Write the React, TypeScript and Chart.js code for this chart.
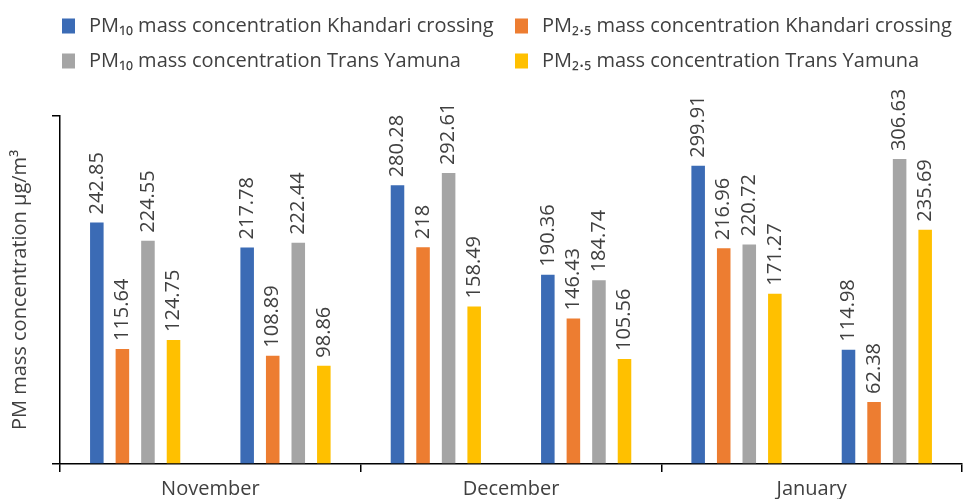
import React, { useEffect, useRef } from "react";
import { Chart, registerables } from "chart.js";

Chart.register(...registerables);

const months = ["November", "December", "January"];
const groups = ["Nov-1", "Nov-2", "Dec-1", "Dec-2", "Jan-1", "Jan-2"];

const seriesNames = [
  "PM₁₀ mass concentration Khandari crossing",
  "PM₂.₅ mass concentration Khandari crossing",
  "PM₁₀ mass concentration Trans Yamuna",
  "PM₂.₅ mass concentration Trans Yamuna",
];
const pm10Khandari = [242.85, 217.78, 280.28, 190.36, 299.91, 114.98];
const pm25Khandari = [115.64, 108.89, 218, 146.43, 216.96, 62.38];
const pm10Yamuna = [224.55, 222.44, 292.61, 184.74, 220.72, 306.63];
const pm25Yamuna = [124.75, 98.86, 158.49, 105.56, 171.27, 235.69];
const colors = ["#3B6BB5", "#ED7D31", "#A5A5A5", "#FFC000"];

const yMin = 0;
const yMax = 350;

const FONT = "'Open Sans', 'Noto Sans', sans-serif";
const TEXT = "#404040";

const legendPlugin = {
  id: "gridLegend",
  afterDraw(chart: any) {
    const ctx = chart.ctx;
    const items = chart.data.datasets;
    const colX = [62, 515];
    const rowY = [26, 61];
    ctx.save();
    ctx.font = `20px ${FONT}`;
    ctx.textBaseline = "middle";
    ctx.textAlign = "left";
    items.forEach((ds: any, i: number) => {
      const cx = colX[i % 2];
      const cy = rowY[Math.floor(i / 2)];
      ctx.fillStyle = ds.backgroundColor;
      ctx.fillRect(cx, cy - 7.5, 13, 15);
      ctx.fillStyle = TEXT;
      ctx.fillText(ds.label, cx + 27, cy);
    });
    ctx.restore();
  },
};

const valueLabelPlugin = {
  id: "valueLabels",
  afterDatasetsDraw(chart: any) {
    const ctx = chart.ctx;
    ctx.save();
    ctx.font = `20px ${FONT}`;
    ctx.fillStyle = TEXT;
    ctx.textAlign = "left";
    ctx.textBaseline = "middle";
    chart.data.datasets.forEach((ds: any, di: number) => {
      const meta = chart.getDatasetMeta(di);
      meta.data.forEach((bar: any, i: number) => {
        const v = ds.data[i];
        ctx.save();
        ctx.translate(bar.x, bar.y - 8);
        ctx.rotate(-Math.PI / 2);
        ctx.fillText(String(v), 0, 0);
        ctx.restore();
      });
    });
    ctx.restore();
  },
};

export default function App() {
  const ref = useRef<HTMLCanvasElement>(null);
  useEffect(() => {
    document.body.style.margin = "0";
    const series = [pm10Khandari, pm25Khandari, pm10Yamuna, pm25Yamuna];
    const chart = new Chart(ref.current!, {
      type: "bar",
      data: {
        labels: groups,
        datasets: series.map((d, i) => ({
          label: seriesNames[i],
          data: d,
          backgroundColor: colors[i],
          borderWidth: 0,
          categoryPercentage: 0.68,
          barPercentage: 0.53,
        })),
      },
      options: {
        animation: false,
        responsive: true,
        maintainAspectRatio: false,
        layout: { padding: { top: 116, right: 2, left: 0, bottom: 0 } },
        plugins: {
          legend: { display: false },
          tooltip: { enabled: false },
        },
        scales: {
          x: {
            type: "category",
            display: false,
            offset: true,
          },
          x2: {
            type: "category",
            labels: months,
            position: "bottom",
            offset: true,
            grid: {
              offset: true,
              drawOnChartArea: false,
              drawTicks: true,
              tickLength: 8,
              color: "#000",
              lineWidth: 1.5,
            },
            border: { display: true, color: "#000", width: 1.5 },
            ticks: {
              color: TEXT,
              font: { family: FONT, size: 20 },
              padding: 5,
              maxRotation: 0,
            },
            afterFit: (s: any) => {
              s.height = 35;
            },
          },
          y: {
            min: yMin,
            max: yMax,
            ticks: { display: false, stepSize: yMax - yMin },
            grid: {
              drawOnChartArea: false,
              drawTicks: true,
              tickLength: 8,
              color: "#000",
              lineWidth: 1.5,
            },
            border: { display: true, color: "#000", width: 1.5 },
            title: {
              display: true,
              text: "PM mass concentration µg/m³",
              color: TEXT,
              font: { family: FONT, size: 20 },
              padding: { top: 8, bottom: 0 },
            },
            afterFit: (s: any) => {
              s.width = 60;
            },
          },
        },
      },
      plugins: [legendPlugin, valueLabelPlugin],
    });
    return () => chart.destroy();
  }, []);
  return (
    <div style={{ position: "fixed", left: 0, top: 0, width: 964, height: 499 }}>
      <canvas ref={ref} />
    </div>
  );
}
